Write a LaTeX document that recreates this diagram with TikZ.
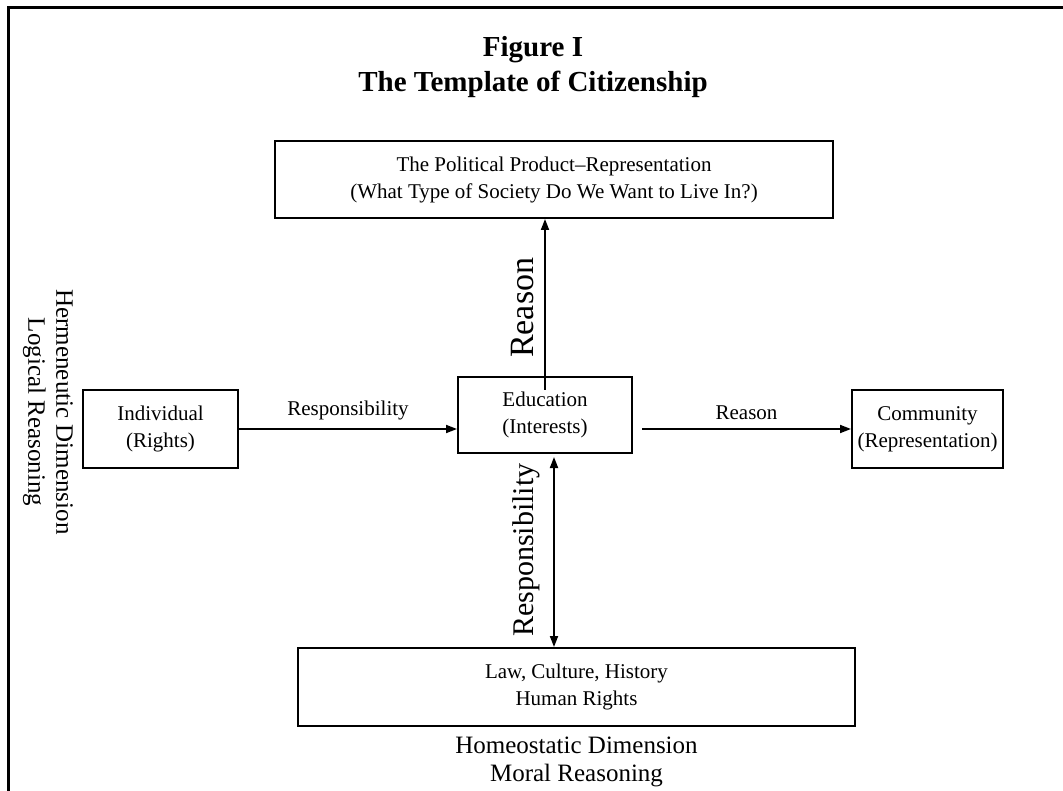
\documentclass[tikz,border=0pt]{standalone}
\usepackage{fontspec}
\setmainfont{Liberation Serif}
\usetikzlibrary{arrows.meta}
\begin{document}
\begin{tikzpicture}[x=1pt,y=-1pt,
  box/.style={draw,line width=2pt,inner sep=0pt,align=center,
    font=\fontsize{21}{27}\selectfont},
  conn/.style={line width=1.8pt,-{Triangle[length=11pt,width=8pt]}},
  dbl/.style={line width=1.8pt,{Triangle[length=11pt,width=8pt]}-{Triangle[length=11pt,width=8pt]}},
  lbl/.style={font=\fontsize{21}{25}\selectfont,inner sep=0pt},
  dim/.style={font=\fontsize{25}{28}\selectfont,align=center,inner sep=0pt},
  big/.style={inner sep=0pt,rotate=90,anchor=base west}]
\useasboundingbox (0,0) rectangle (1063,791);
% outer frame
\draw[line width=2.2pt] (8.5,820) -- (8.5,7.5) -- (1090,7.5);

% title
\node[font=\bfseries\fontsize{29}{35}\selectfont,align=center] (title) at (533,67)
  {Figure I\\The Template of Citizenship};

% boxes
\node[box,minimum width=558pt,minimum height=77pt] (top) at (554,179.5)
  {The Political Product--Representation\\(What Type of Society Do We Want to Live In?)};
\node[box,minimum width=155pt,minimum height=78pt] (ind) at (160.5,429)
  {Individual\\(Rights)};
\node[box,minimum width=174pt,minimum height=76pt] (edu) at (545,415)
  {Education\\(Interests)};
\node[box,minimum width=151pt,minimum height=78pt] (com) at (927.5,429)
  {Community\\(Representation)};
\node[box,minimum width=557pt,minimum height=78pt] (bot) at (576.5,687)
  {Law, Culture, History\\Human Rights};

% dimension captions
\node[dim,rotate=-90] (herm) at (48,412)
  {Hermeneutic Dimension\\Logical Reasoning};
\node[dim] (homeo) at (576.5,762)
  {Homeostatic Dimension\\Moral Reasoning};

% connectors
\coordinate (eduout) at ([xshift=9pt]edu.east);
\coordinate (edudown) at ([xshift=9pt]edu.south);
\coordinate (eduup) at ([yshift=-14pt]edu.north);

\draw[conn] (ind.east) -- (ind.east -| edu.west)
  node[lbl,midway,above=8pt] (l1) {Responsibility};
\draw[conn] (eduout |- com.west) -- (com.west)
  node[lbl,midway,above=8pt] (l2) {Reason};
\draw[conn] (eduup) -- (eduup |- top.south);
\draw[dbl] ([yshift=-3pt]edudown) -- (edudown |- bot.north);

% rotated labels
\node[big,font=\fontsize{34}{34}\selectfont] (l3) at (533,358) {Reason};
\node[big,font=\fontsize{30}{30}\selectfont] (l4) at (533,637) {Responsibility};
\end{tikzpicture}
\end{document}
